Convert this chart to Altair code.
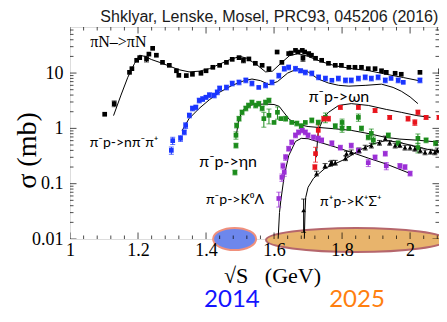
import altair as alt
import pandas as pd

XMIN, XMAX = 1.0, 2.085
YMIN, YMAX = 0.01, 68

# ---------------- data points ----------------
piN_W = [1.102,1.13,1.175,1.182,1.196,1.205,1.225,1.232,1.243,1.254,1.272,1.292,1.313,1.32,1.342,1.36,1.385,1.40,1.42,1.44,1.46,1.477,1.497,1.51,1.526,1.545,1.565,1.585,1.609,1.623,1.643,1.65,1.663,1.67,1.683,1.685,1.69,1.702,1.71,1.722,1.74,1.76,1.78,1.798,1.82,1.838,1.857,1.877,1.897,1.916,1.93,1.956,1.974,2.029,2.09]
piN_s = [1.8,2.8,10.3,12,17,19,18,22,28,21,15.6,13.8,11,9.1,9,9.5,9.9,11,12.7,13.8,15.6,17.7,19,17,18,15,13.8,12,24,15.6,22.5,23,25.7,24,25.7,18.5,24,22.5,21,18.5,17,15,13.8,13.8,12.7,12.7,12.7,12,12,11,10.3,9.9,9.5,10.3,10.8]
piN_e = [0,0.12,0,0,0,0,0.12,0,0,0, 0,0,0,0,0,0,0,0,0,0, 0,0,0,0.1,0,0,0,0,0,0, 0,0,0,0,0,0.12,0,0,0,0, 0,0,0,0,0,0,0,0,0,0, 0,0,0,0,0.1]

npp_W = [1.298,1.302,1.325,1.336,1.34,1.351,1.36,1.37,1.38,1.39,1.40,1.41,1.424,1.433,1.44,1.46,1.477,1.497,1.517,1.535,1.555,1.575,1.594,1.614,1.63,1.643,1.663,1.678,1.692,1.711,1.731,1.751,1.77,1.789,1.81,1.827,1.848,1.868,1.886,1.906,1.927,1.944,1.965,1.98,2.029]
npp_s = [0.40,0.60,0.66,0.85,1.13,1.72,2.3,2.4,3.2,3.4,3.65,4.0,3.95,4.5,5.3,5.5,6.5,6.8,7.4,6.5,5.5,6.0,6.8,9.0,12,12.7,12,11,10.3,9.9,8.4,8.0,7.4,8.0,7.4,7.4,8.0,8.4,8.0,8.4,7.4,8.0,7.4,6.8,7.4]
npp_e = [0.15,0.15,0.12,0.1,0.12,0.1,0.1,0.1,0.1,0.1,0.08,0.1,0.1,0.1,0.1,0.1,0.1,0.1,0.1,0.1,0,0.1,0.1,0.1,0.1,0.1,0.1,0.08,0.1,0.1,0.1,0.1,0,0.1,0.1,0.1,0.1,0.1,0.1,0.1,0.1,0,0.1,0,0.1]

eta_W = [1.485,1.488,1.488,1.49,1.497,1.506,1.517,1.525,1.535,1.546,1.555,1.565,1.57,1.575,1.585,1.585,1.6,1.61,1.62,1.634,1.652,1.667,1.68,1.692,1.711,1.73,1.751,1.78,1.80,1.80,1.82,1.848,1.857,1.877,1.886,1.892,1.936,1.965,2.023,2.023,2.047,2.075]
eta_s = [0.16,0.49,0.75,1.13,1.5,1.95,2.3,2.6,2.95,2.6,2.8,2.3,1.5,2.95,3.2,1.72,1.28,1.95,1.5,1.5,1.28,1.23,1.1,1.28,1.4,1.28,1.58,1.1,1.28,1.0,1.0,1.58,1.0,0.69,0.81,0.61,0.75,0.54,0.45,0.66,0.61,0.54]
eta_e = [0.1,0.1,0.15,0.1,0.1,0.1,0.1,0.1,0.1,0.1,0.1,0.1,0.3,0.1,0.1,0.3,0,0.25,0,0.1,0,0.1,0.1,0,0.1,0.1,0.2,0.1,0.15,0.15,0,0.15,0.1,0.1,0.2,0.15,0.1,0.1,0.2,0.2,0.1,0.1]

omg_W = [1.72,1.722,1.73,1.746,1.76,1.795,1.848,1.897,1.94,1.994,2.014,2.023,2.047,2.085]
omg_s = [0.2,0.35,0.92,1.5,1.5,2.4,2.4,2.1,1.58,1.5,1.28,1.95,1.58,1.58]
omg_e = [0.1,0.3,0.3,0.1,0.1,0.08,0.08,0.08,0.08,0.1,0.12,0.1,0.08,0.08]

kl_W = [1.614,1.623,1.626,1.63,1.634,1.643,1.652,1.663,1.672,1.683,1.692,1.70,1.716,1.73,1.74,1.77,1.795,1.827,1.848,1.877,1.897,1.927,1.93,1.97,1.985,2.0]
kl_s = [0.054,0.13,0.21,0.16,0.30,0.43,0.56,0.75,0.85,0.92,0.85,0.75,0.69,0.66,0.61,0.54,0.45,0.49,0.40,0.24,0.30,0.35,0.21,0.21,0.20,0.153]
kl_e = [0.3,0.15,0.12,0.15,0.12,0.1,0.1,0.1,0.1,0.1,0.1,0.1,0.1,0.1,0.1,0.1,0.1,0.1,0.1,0.15,0.1,0.1,0.15,0.1,0.1,0.1]

ks_W = [1.687,1.725,1.75,1.766,1.77,1.78,1.81,1.813,1.827,1.85,1.868,1.886,1.91,1.927,1.94,1.956,1.97,1.985,2.0,2.014,2.03,2.044,2.06,2.073,2.08]
ks_s = [0.033,0.153,0.21,0.23,0.24,0.24,0.29,0.35,0.37,0.40,0.45,0.49,0.55,0.66,0.55,0.49,0.50,0.45,0.45,0.43,0.40,0.37,0.38,0.37,0.40]
ks_e = [0.6,0.1,0.1,0.1,0.1,0.1,0.1,0.1,0.1,0.1,0.1,0.1,0.1,0.1,0.1,0.1,0.1,0.1,0.1,0.1,0.1,0.1,0.1,0.1,0.1]

# ---------------- theory curves ----------------
thN_W = [1.128,1.15,1.17,1.19,1.205,1.22,1.24,1.265,1.29,1.32,1.35,1.38,1.41,1.44,1.47,1.50,1.52,1.55,1.575,1.595,1.62,1.645,1.67,1.70,1.74,1.78,1.83,1.88,1.93,1.98,2.03]
thN_s = [1.7,4.0,8.4,15,21,20,17.5,15.5,13.5,11.5,10.5,10.8,12,14.5,17.5,20,18.5,14,10.5,10.8,15,20.5,22.5,20,16,13.5,12,11,9.5,8.3,7.2]
thB_W = [1.33,1.35,1.38,1.41,1.44,1.477,1.51,1.535,1.56,1.585,1.61,1.64,1.67,1.70,1.73,1.76,1.79,1.82,1.87,1.916,1.95,1.974,2.0,2.023]
thB_s = [0.92,1.5,2.3,3.3,4.5,6.0,7.2,7.8,7.3,6.2,7.0,10,12,10.5,7.8,6.6,6.0,5.8,6.0,6.3,5.5,4.7,3.7,2.8]
thE_W = [1.488,1.495,1.505,1.52,1.54,1.57,1.60,1.615,1.63,1.645,1.67,1.70,1.73,1.78,1.827,1.88,1.927,1.97,2.023,2.09]
thE_s = [0.69,1.3,2.0,2.5,2.7,2.75,2.7,2.5,1.9,1.45,1.18,1.08,1.04,0.98,0.92,0.8,0.69,0.64,0.61,0.56]
thO_W = [1.724,1.73,1.745,1.76,1.79,1.827,1.877,1.93,1.974,2.02,2.06]
thO_s = [0.3,0.92,1.5,1.95,2.6,2.8,2.6,2.2,1.95,1.7,1.58]
thL_W = [1.612,1.616,1.62,1.63,1.643,1.663,1.68,1.70,1.73,1.78,1.827,1.877,1.927,2.0]
thL_s = [0.0101,0.03,0.05,0.14,0.32,0.58,0.66,0.65,0.57,0.46,0.37,0.29,0.23,0.153]
thS_W = [1.689,1.691,1.693,1.70,1.716,1.75,1.78,1.81,1.85,1.89,1.927,1.96,2.0,2.05,2.09]
thS_s = [0.0101,0.03,0.056,0.086,0.125,0.19,0.23,0.28,0.40,0.52,0.60,0.57,0.50,0.42,0.37]

# ---------------- texts ----------------
title_txt = ["Shklyar, Lenske, Mosel, PRC93, 045206 (2016)"]
title_W = [2.083]
title_s = [101]

lab_serif = ["πN–>πN"]
lab_serif_W = [1.142]
lab_serif_s = [35.9]
labels = ["π⁻p->ωn", "π⁻p->nπ⁻π⁺", "π⁻p->ηn", "π⁻p->K⁰Λ", "π⁺p->K⁺Σ⁺"]
lab_W = [1.791, 1.159, 1.465, 1.485, 1.826]
lab_s = [3.64, 0.535, 0.243, 0.0499, 0.0459]
lab_size = [16, 14, 16, 14, 14]

years = ["2014", "2025"]
year_W = [1.476, 1.844]
year_s = [0.000776, 0.000776]
year_col = ["#1414ff", "#ff7f0e"]

ell_W = [1.484, 1.841]
ell_s = [0.0100, 0.0096]

xt_major = [1.0, 1.2, 1.4, 1.6, 1.8, 2.0]
xt_minor = [1.04,1.08,1.12,1.16,1.24,1.28,1.32,1.36,1.44,1.48,1.52,1.56,1.64,1.68,1.72,1.76,1.84,1.88,1.92,1.96,2.04,2.08]
yt_major = [0.01, 0.1, 1, 10]
yt_minor = [0.02,0.03,0.04,0.05,0.06,0.07,0.08,0.09,0.2,0.3,0.4,0.5,0.6,0.7,0.8,0.9,2,3,4,5,6,7,8,9,20,30,40,50,60]

names = ["piN", "npipi", "eta", "omega", "K0L", "KSig"]
colors = ["black", "#1a35ff", "#1c8c1c", "#e8141c", "#9b2fd6", "black"]
shapes = ["square", "square", "square", "square", "square", "triangle-up"]


def fr(name, W, s, e=None):
    d = {"series": name, "W": W, "sigma": s}
    if e is not None:
        d["err"] = e
    return pd.DataFrame(d)


pts = pd.concat([fr("piN", piN_W, piN_s, piN_e), fr("npipi", npp_W, npp_s, npp_e),
                 fr("eta", eta_W, eta_s, eta_e), fr("omega", omg_W, omg_s, omg_e),
                 fr("K0L", kl_W, kl_s, kl_e), fr("KSig", ks_W, ks_s, ks_e)], ignore_index=True)
pts["lo"] = pts["sigma"] * (1 - pts["err"])
pts["hi"] = pts["sigma"] * (1 + pts["err"])
errs = pts[pts["err"] > 0].reset_index(drop=True)
cap_df = pd.concat([errs.assign(yv=errs["lo"]), errs.assign(yv=errs["hi"])], ignore_index=True)

theory = pd.concat([fr("piN", thN_W, thN_s), fr("npipi", thB_W, thB_s), fr("eta", thE_W, thE_s),
                    fr("omega", thO_W, thO_s), fr("K0L", thL_W, thL_s), fr("KSig", thS_W, thS_s)],
                   ignore_index=True)

xs = alt.Scale(domain=[XMIN, XMAX], nice=False, zero=False)
ys = alt.Scale(type="log", domain=[YMIN, YMAX], nice=False)

xaxis = alt.Axis(values=xt_major, format="~g", ticks=False, domain=False, grid=False,
                 labelFont="Liberation Serif", labelFontSize=18, labelColor="black",
                 labelPadding=2, labelFlush=False, labelOverlap=False, zindex=1,
                 title="√S\u00a0\u00a0\u00a0(GeV)", titleFont="Liberation Serif", titleFontSize=22,
                 titleFontWeight="normal", titleColor="black", titleX=202, titleY=36,
                 titleBaseline="middle", titleAlign="center")
yaxis = alt.Axis(values=yt_major, format="~g", ticks=False, domain=False, grid=False,
                 labelFont="Liberation Serif", labelFontSize=18, labelColor="black",
                 labelPadding=7, labelOverlap=False, zindex=1,
                 title="σ (mb)", titleFont="Liberation Serif", titleFontSize=28,
                 titleFontWeight="normal", titleColor="black", titleX=-43, titleY=123,
                 titleAngle=-90, titleBaseline="middle", titleAlign="center")

X = alt.X("W:Q", scale=xs, axis=xaxis)
Y = alt.Y("sigma:Q", scale=ys, axis=yaxis)
col = alt.Color("series:N", scale=alt.Scale(domain=names, range=colors), legend=None)
shp = alt.Shape("series:N", scale=alt.Scale(domain=names, range=shapes), legend=None)

BLUE_PATH = "M -1 0 A 1 0.512 0 1 0 1 0 A 1 0.512 0 1 0 -1 0 Z"
ORANGE_PATH = "M -1 0 A 1 0.133 0 1 0 1 0 A 1 0.133 0 1 0 -1 0 Z"

ell_orange = alt.Chart(pd.DataFrame({"W": [ell_W[1]], "sigma": [ell_s[1]]})).mark_point(
    shape=ORANGE_PATH, size=32400, filled=True, fill="#e8b46c", stroke="#b5666c",
    strokeWidth=2, opacity=1, fillOpacity=1, strokeOpacity=1, clip=False).encode(x=X, y=Y)
ell_blue = alt.Chart(pd.DataFrame({"W": [ell_W[0]], "sigma": [ell_s[0]]})).mark_point(
    shape=BLUE_PATH, size=1849, filled=True, fill="#6d87ec", stroke="#f0907c",
    strokeWidth=2, opacity=1, fillOpacity=1, strokeOpacity=1, clip=False).encode(x=X, y=Y)

lines = alt.Chart(theory).mark_line(color="black", strokeWidth=1, clip=True).encode(
    x=X, y=Y, detail="series:N", order=alt.Order("W:Q"))

ebar = alt.Chart(errs).mark_rule(strokeWidth=1, clip=True).encode(
    x=X, y=alt.Y("lo:Q", scale=ys, axis=yaxis), y2="hi:Q", color=col)
ecap = alt.Chart(cap_df).mark_tick(
    orient="horizontal", size=5, thickness=1, clip=True).encode(
    x=X, y=alt.Y("yv:Q", scale=ys, axis=yaxis), color=col)

points = alt.Chart(pts).mark_point(filled=True, size=22, opacity=1, clip=True).encode(
    x=X, y=Y, color=col, shape=shp)

xt = pd.DataFrame({"W": xt_major + xt_minor, "len": [13] * len(xt_major) + [7] * len(xt_minor)})
yt = pd.DataFrame({"sigma": yt_major + yt_minor, "len": [13] * len(yt_major) + [7] * len(yt_minor)})

tick_layers = []
for yv in (YMIN, YMAX):
    tick_layers.append(alt.Chart(xt.assign(sigma=yv)).mark_tick(
        orient="vertical", thickness=1, color="black", clip=True).encode(
        x=X, y=Y, size=alt.Size("len:Q", scale=None)))
for xv in (XMIN, XMAX):
    tick_layers.append(alt.Chart(yt.assign(W=xv)).mark_tick(
        orient="horizontal", thickness=1, color="black", clip=True).encode(
        x=X, y=Y, size=alt.Size("len:Q", scale=None)))

ttl = alt.Chart(pd.DataFrame({"W": title_W, "sigma": title_s, "t": title_txt})).mark_text(
    font="Liberation Sans", fontSize=16, align="right", baseline="middle", color="#1a1a1a",
    clip=False).encode(x=X, y=Y, text="t:N")
txt_serif = alt.Chart(pd.DataFrame({"W": lab_serif_W, "sigma": lab_serif_s, "t": lab_serif})).mark_text(
    font="Liberation Serif", fontSize=16, align="center", baseline="middle", color="black",
    clip=True).encode(x=X, y=Y, text="t:N")
txt = alt.Chart(pd.DataFrame({"W": lab_W, "sigma": lab_s, "t": labels, "fs": lab_size})).mark_text(
    font="Lato", align="center", baseline="middle", color="black", clip=True).encode(
    x=X, y=Y, text="t:N", size=alt.Size("fs:Q", scale=None))
yrs = alt.Chart(pd.DataFrame({"W": year_W, "sigma": year_s, "t": years, "c": year_col})).mark_text(
    font="Lato", fontSize=24, align="center", baseline="middle", clip=False).encode(
    x=X, y=Y, text="t:N", color=alt.Color("c:N", scale=None))

chart = alt.layer(ell_orange, ell_blue, lines, ebar, ecap, points, *tick_layers,
                  ttl, txt_serif, txt, yrs).properties(
    width=369, height=212,
    autosize=alt.AutoSizeParams(type="none"),
    padding={"left": 62, "top": 19, "right": 0, "bottom": 75},
).configure_view(stroke="black", strokeWidth=1).configure(background="white")

chart.save("out.html", embed_options={"renderer": "svg", "actions": False})
